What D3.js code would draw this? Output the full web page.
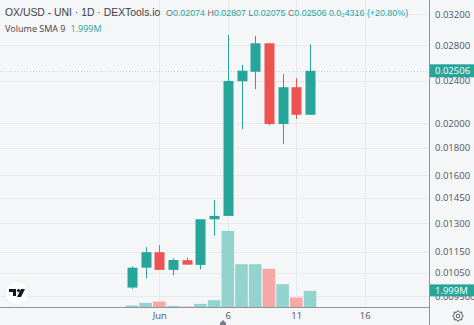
<!DOCTYPE html>
<html><head><meta charset="utf-8">
<script src="https://cdn.jsdelivr.net/npm/d3@7"></script>
<style>html,body{margin:0;padding:0;background:#f5f6f8;}svg{display:block;font-family:"Open Sans",sans-serif;}</style>
</head><body><svg id="c" width="474" height="325"></svg>
<script>
const dates = ["2023-05-30","2023-05-31","2023-06-01","2023-06-02","2023-06-03","2023-06-04","2023-06-05","2023-06-06","2023-06-07","2023-06-08","2023-06-09","2023-06-10","2023-06-11","2023-06-12"];
const opens  = [0.00986,0.01074,0.01148,0.01064,0.01109,0.01087,0.01323,0.01342,0.02396,0.02496,0.02821,0.01993,0.02335,0.02074];
const highs  = [0.01080,0.01173,0.01184,0.01118,0.01121,0.01110,0.01437,0.02924,0.02570,0.02911,0.02821,0.02472,0.02427,0.02807];
const lows   = [0.00980,0.01026,0.01064,0.01039,0.01088,0.01067,0.01233,0.01342,0.01949,0.02315,0.01982,0.01829,0.02037,0.02075];
const closes = [0.01074,0.01148,0.01064,0.01110,0.01088,0.01323,0.01342,0.02399,0.02507,0.02821,0.01993,0.02335,0.02074,0.02506];
const volumes = [0.24e6,0.55e6,0.72e6,0.19e6,0.12e6,0.43e6,0.88e6,9.22e6,5.21e6,5.21e6,4.65e6,2.81e6,1.20e6,1.999e6];
const priceTicks = [0.032,0.028,0.024,0.020,0.018,0.016,0.0145,0.013,0.0115,0.0105,0.0095];
const priceTickLabels = ["0.03200","0.02800","0.02400","0.02000","0.01800","0.01600","0.01450","0.01300","0.01150","0.01050","0.009500"];
const timeTicks = ["2023-06-01","2023-06-06","2023-06-11","2023-06-16"];
const timeTickLabels = ["Jun","6","11","16"];
const title = "OX/USD - UNI · 1D · DEXTools.io";
const lastClose = "0.02506", lastVolume = "1.999M", changeText = "0.0₂4316 (+20.80%)";

const W = 474, H = 325, plotR = 429, plotB = 307.5;
const up = "#26a69a", down = "#ef5350";
const parse = d3.utcParse("%Y-%m-%d");
const day = 86400000;
const jun1 = parse("2023-06-01").getTime();
const pxDay = 13.7, jun1X = 159.3;
const x = d3.scaleUtc()
  .domain([new Date(jun1 - jun1X / pxDay * day), new Date(jun1 + (plotR - jun1X) / pxDay * day)])
  .range([0, plotR]);
const y = d3.scaleLog().domain([0.0095, 0.032]).range([296.2, 14]);
const yv = d3.scaleLinear().domain([0, 37e6]).range([plotB, 0]);

const svg = d3.select("#c");
svg.append("rect").attr("width", W).attr("height", H).attr("fill", "#f5f6f8");

// grid
const grid = svg.append("g");
grid.selectAll("line.h").data(priceTicks).join("line")
  .attr("x1", 0).attr("x2", plotR).attr("y1", d => Math.round(y(d)) + 0.5).attr("y2", d => Math.round(y(d)) + 0.5)
  .attr("stroke", "#e8e9ed").attr("stroke-width", 1);
grid.selectAll("line.v").data(timeTicks).join("line")
  .attr("y1", 0).attr("y2", plotB).attr("x1", d => Math.round(x(parse(d))) + 0.5).attr("x2", d => Math.round(x(parse(d))) + 0.5)
  .attr("stroke", "#e8e9ed").attr("stroke-width", 1);

const data = dates.map((d, i) => ({date: parse(d), o: opens[i], h: highs[i], l: lows[i], c: closes[i], v: volumes[i]}));
const col = d => d.c >= d.o ? up : down;
const volCol = d => d.c >= d.o ? "#93d3cd" : "#f6a7a6";

// volume
svg.append("g").selectAll("rect").data(data).join("rect")
  .attr("x", d => x(d.date) - 6.3).attr("width", 12.6)
  .attr("y", d => yv(d.v)).attr("height", d => plotB - yv(d.v))
  .attr("fill", volCol);

// current price line
svg.append("line").attr("x1", 0).attr("x2", plotR)
  .attr("y1", Math.round(y(+lastClose)) + 0.5).attr("y2", Math.round(y(+lastClose)) + 0.5)
  .attr("stroke", up).attr("stroke-opacity", 0.35).attr("stroke-dasharray", "1,2");

// candles
const cg = svg.append("g");
cg.selectAll("line").data(data).join("line")
  .attr("x1", d => Math.round(x(d.date)) + 0.5).attr("x2", d => Math.round(x(d.date)) + 0.5)
  .attr("y1", d => y(d.h)).attr("y2", d => y(d.l)).attr("stroke", col).attr("stroke-width", 1);
cg.selectAll("rect").data(data).join("rect")
  .attr("x", d => Math.round(x(d.date)) - 4.5).attr("width", 10)
  .attr("y", d => y(Math.max(d.o, d.c)))
  .attr("height", d => Math.max(1, y(Math.min(d.o, d.c)) - y(Math.max(d.o, d.c))))
  .attr("fill", col);

// axes borders
svg.append("line").attr("x1", 0).attr("x2", plotR).attr("y1", plotB).attr("y2", plotB).attr("stroke", "#8f939b");
svg.append("line").attr("x1", plotR + 0.5).attr("x2", plotR + 0.5).attr("y1", 0).attr("y2", H).attr("stroke", "#8f939b");

// right axis
const ya = svg.append("g").attr("transform", `translate(${plotR},0)`)
  .call(d3.axisRight(y).tickValues(priceTicks).tickFormat((d, i) => priceTickLabels[i]).tickSize(0).tickPadding(6));
ya.select(".domain").remove();
ya.selectAll("text").attr("fill", "#50535e").attr("font-size", 9.5).attr("font-family", "Open Sans, sans-serif");

// bottom axis
const xa = svg.append("g").attr("transform", `translate(0,${plotB})`)
  .call(d3.axisBottom(x).tickValues(timeTicks.map(parse)).tickFormat((d, i) => timeTickLabels[i]).tickSize(0).tickPadding(5));
xa.select(".domain").remove();
xa.selectAll("text").attr("fill", "#50535e").attr("font-size", 9.5).attr("font-family", "Open Sans, sans-serif");

// last price label
const lp = y(+lastClose);
svg.append("rect").attr("x", plotR + 1).attr("y", lp - 6.5).attr("width", W - plotR - 1).attr("height", 13).attr("fill", up);
svg.append("text").attr("x", plotR + 6).attr("y", lp + 3.5).attr("fill", "#fff").attr("font-size", 9.5).text(lastClose);
// last volume label
const lv = yv(volumes[volumes.length - 1]);
svg.append("rect").attr("x", plotR + 1).attr("y", lv - 6.5).attr("width", W - plotR - 1).attr("height", 12).attr("fill", up);
svg.append("text").attr("x", plotR + 6).attr("y", lv + 3).attr("fill", "#fff").attr("font-size", 9.5).text(lastVolume);

// header
const hf = "'Liberation Sans', Arial, sans-serif";
const hdr = svg.append("text").attr("x", 5).attr("y", 16).attr("font-size", 10.4)
  .attr("font-family", hf).attr("fill", "#3c3f48");
hdr.text(title);
const vals = [["O", opens.at(-1)], ["H", highs.at(-1)], ["L", lows.at(-1)], ["C", closes.at(-1)]];
const hv = svg.append("text").attr("x", 166).attr("y", 16).attr("font-size", 8.9).attr("font-family", hf);
vals.forEach(([k, v], i) => {
  hv.append("tspan").attr("fill", "#6a6d78").text((i ? " " : "") + k);
  hv.append("tspan").attr("fill", up).text(v.toFixed(5));
});
hv.append("tspan").attr("fill", up).text(" " + changeText);
const vl = svg.append("text").attr("x", 5).attr("y", 32).attr("font-size", 9).attr("fill", "#3c3f48");
vl.append("tspan").text("Volume SMA 9");
vl.append("tspan").attr("dx", 5).attr("fill", up).text(lastVolume);

// TradingView logo
const lg = svg.append("g").attr("transform", "translate(17,293)");
lg.append("circle").attr("r", 12).attr("fill", "#fff").attr("stroke", "#eceef1");
lg.append("path").attr("d", "M-8,-4 h7 v7 h-3 v-4 h-4z").attr("fill", "#131722");
lg.append("circle").attr("cx", 1.5).attr("cy", -2.5).attr("r", 1.6).attr("fill", "#131722");
lg.append("path").attr("d", "M4,-4 h4 l-4,8 h-4z").attr("fill", "#131722");

// gear icon
const gr = svg.append("g").attr("transform", "translate(458,316)");
gr.append("path").attr("d", d3.range(16).map(i => {
  const a = i * Math.PI / 8, r = i % 2 ? 4 : 5.5; return (i ? "L" : "M") + (r * Math.cos(a)).toFixed(2) + "," + (r * Math.sin(a)).toFixed(2);
}).join("") + "Z").attr("fill", "none").attr("stroke", "#50535e").attr("stroke-width", 1);
gr.append("circle").attr("r", 1.8).attr("fill", "none").attr("stroke", "#50535e");

// small marker under "6"
svg.append("path").attr("d", "M220,325 v-2 l3,-3 l3,3 v2z").attr("fill", "#787b86");
</script></body></html>
